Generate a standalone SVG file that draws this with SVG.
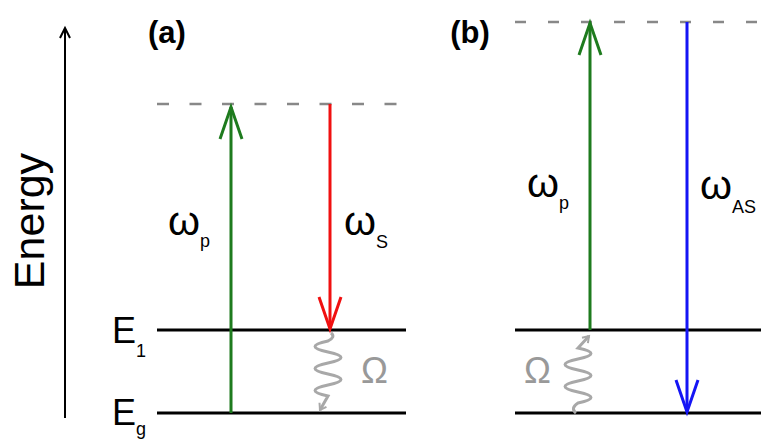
<svg xmlns="http://www.w3.org/2000/svg" width="761" height="441" viewBox="0 0 761 441">
<style>
.lvl{stroke:#000;stroke-width:3;fill:none}
.dash{stroke:#888;stroke-width:2.5;fill:none}
.wave{stroke:#a8a8a8;stroke-width:3;fill:none}
.t{font-family:"Liberation Sans",Arial,sans-serif;fill:#000}
.gr{fill:#999}
.b{font-weight:bold}
</style>
<defs>
<marker id="ah-k" markerUnits="userSpaceOnUse" viewBox="-12 -7 14 14" refX="0" refY="0" markerWidth="14" markerHeight="14" orient="auto" overflow="visible"><path d="M-10,-5 L0,0 L-10,5" fill="none" stroke="#000" stroke-width="2"/></marker>
<marker id="ah-g" markerUnits="userSpaceOnUse" viewBox="-34 -13 36 26" refX="0" refY="0" markerWidth="36" markerHeight="26" orient="auto" overflow="visible"><path d="M-32,-11 L0,0 L-32,11" fill="none" stroke="#1e7b1e" stroke-width="3"/></marker>
<marker id="ah-r" markerUnits="userSpaceOnUse" viewBox="-34 -13 36 26" refX="0" refY="0" markerWidth="36" markerHeight="26" orient="auto" overflow="visible"><path d="M-32,-11 L0,0 L-32,11" fill="none" stroke="#f01010" stroke-width="3"/></marker>
<marker id="ah-b" markerUnits="userSpaceOnUse" viewBox="-34 -13 36 26" refX="0" refY="0" markerWidth="36" markerHeight="26" orient="auto" overflow="visible"><path d="M-32,-11 L0,0 L-32,11" fill="none" stroke="#1515f5" stroke-width="3"/></marker>
<marker id="ah-w" markerUnits="userSpaceOnUse" viewBox="-8 -5 10 10" refX="0" refY="0" markerWidth="10" markerHeight="10" orient="auto" overflow="visible"><path d="M-6,-4 L0,0 L-6,4" fill="none" stroke="#a8a8a8" stroke-width="2"/></marker>
</defs>

<g id="axis">
<line x1="65" y1="418" x2="65" y2="28" stroke="#000" stroke-width="2" marker-end="url(#ah-k)"/>
<text class="t" transform="translate(44,221) rotate(-90)" text-anchor="middle" font-size="43">Energy</text>
</g>

<g id="labels">
<text class="t b" x="167" y="43" text-anchor="middle" font-size="31">(a)</text>
<text class="t b" x="470" y="43" text-anchor="middle" font-size="31">(b)</text>
<text class="t" x="112" y="343" font-size="36">E<tspan font-size="18" dy="14">1</tspan></text>
<text class="t" x="112" y="425" font-size="36">E<tspan font-size="18" dy="10">g</tspan></text>
</g>

<g id="levels-a">
<line class="dash" x1="157" y1="104" x2="405" y2="104" stroke-dasharray="12 20.5"/>
<line class="lvl" x1="157" y1="330" x2="406" y2="330"/>
<line class="lvl" x1="157" y1="413" x2="406" y2="413"/>
</g>
<g id="levels-b">
<line class="dash" x1="515" y1="22" x2="761" y2="22" stroke-dasharray="11 22"/>
<line class="lvl" x1="515" y1="330" x2="761" y2="330"/>
<line class="lvl" x1="515" y1="413" x2="761" y2="413"/>
</g>

<g id="connectors">
<line x1="231" y1="413" x2="231" y2="107" stroke="#1e7b1e" stroke-width="3" marker-end="url(#ah-g)"/>
<line x1="330" y1="104" x2="330" y2="329" stroke="#f01010" stroke-width="3" marker-end="url(#ah-r)"/>
<path class="wave" d="M331,333 Q336,337 328,341 q-26,5.5 0,11 t0,11 t0,11 t0,11 t0,11 L320,410" marker-end="url(#ah-w)"/>
<line x1="590" y1="330" x2="590" y2="23" stroke="#1e7b1e" stroke-width="3" marker-end="url(#ah-g)"/>
<line x1="687" y1="22" x2="687" y2="412" stroke="#1515f5" stroke-width="3" marker-end="url(#ah-b)"/>
<path class="wave" d="M576,413 Q570,408 578,403 q26,-5.5 0,-11 t0,-11 t0,-11 t0,-11 t0,-11 L589,336" marker-end="url(#ah-w)"/>
</g>

<g id="text-a">
<text class="t" x="168" y="235" font-size="41">ω<tspan font-size="18" dy="12">p</tspan></text>
<text class="t" x="344" y="235" font-size="41">ω<tspan font-size="18" dy="13">S</tspan></text>
<text class="t gr" x="361" y="383" font-size="36">Ω</text>
</g>
<g id="text-b">
<text class="t" x="527" y="197" font-size="41">ω<tspan font-size="18" dy="12">p</tspan></text>
<text class="t" x="700" y="199" font-size="41">ω<tspan font-size="18" dy="14">AS</tspan></text>
<text class="t gr" x="524" y="383" font-size="36">Ω</text>
</g>
</svg>
